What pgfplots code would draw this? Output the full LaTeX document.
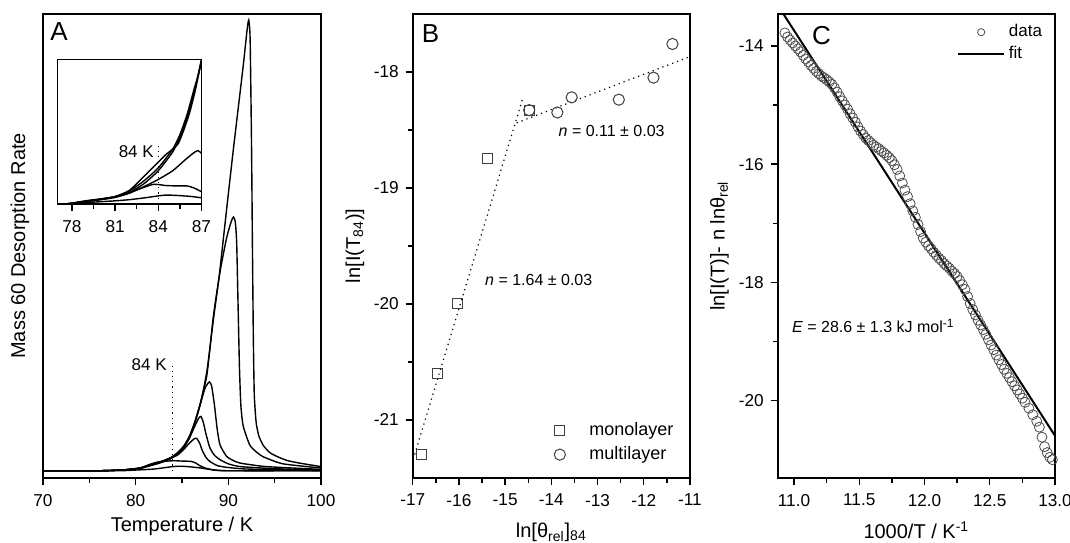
\documentclass[border=0pt]{standalone}
\usepackage{fontspec}
\setmainfont{Liberation Sans}
\usepackage{pgfplots}
\pgfplotsset{compat=1.18}
\pgfplotsset{
  myaxis/.style={
    scale only axis,
    axis line style={line width=0.8pt},
    every tick/.style={line width=0.7pt, black},
    tick align=outside,
    tick pos=left,
    major tick length=3.5pt, minor tick length=2.3pt,
    tick label style={font=\fontsize{8.6}{10}\selectfont},
    xticklabel style={yshift=-1pt},
    label style={font=\fontsize{10}{12}\selectfont},
    /pgf/number format/assume math mode=true,
  },
  tpd/.style={black, line width=0.7pt, smooth, tension=0.35},
  markleg/.style={legend image code/.code={\path[draw=none,fill=none] (0cm,-0.05cm) rectangle (0.75cm,0.05cm);\draw[##1, only marks] plot coordinates {(0.3cm,0cm)};}},
  dataleg/.style={legend image code/.code={\path[draw=none,fill=none] (0cm,-0.05cm) rectangle (0.8cm,0.05cm);\draw[##1, only marks, mark size=1.8pt] plot coordinates {(0.4cm,0cm)};}},
  fitleg/.style={legend image code/.code={\draw[##1] (0cm,0cm) -- (0.8cm,0cm);}},
}
\begin{document}
\begin{tikzpicture}
\useasboundingbox (0,0) rectangle (535pt,271pt);
% ---------------- Panel A ----------------
\begin{axis}[myaxis,
  at={(21.5pt,32pt)}, anchor=south west,
  width=139pt, height=232.1pt,
  xmin=70, xmax=100, ymin=-21, ymax=1322,
  xtick={70,80,90,100}, minor x tick num=1,
  ytick=\empty,
  xlabel={Temperature / K},
  ylabel={Mass 60 Desorption Rate},
  xlabel style={at={(axis description cs:0.5,-0.105)}, anchor=center},
  ylabel style={at={(axis description cs:-0.083,0.5)}, anchor=center},
  clip=true,
]
\addplot[tpd] coordinates {(70,0) (76,0) (77.5,1) (79,3) (80.5,7) (81.5,14) (82.3,20) (83.0,26) (83.8,35) (84.5,48) (85.2,68) (85.8,95) (86.4,140) (87.0,195) (87.7,290) (88.4,440) (89.0,560) (89.5,680) (90.5,920) (91.6,1170) (92.0,1270) (92.2,1304) (92.35,1250) (92.5,950) (92.6,650) (92.7,380) (92.8,220) (93.0,140) (93.3,100) (93.8,72) (94.5,52) (95.2,42) (96.3,30) (97.7,22) (100,12)};
\addplot[tpd] coordinates {(70,0) (76,0) (77.5,1) (79,3) (80.5,7) (81.5,15) (82.3,21) (83.0,27) (83.8,36) (84.5,50) (85.2,70) (85.8,97) (86.4,142) (87.0,198) (87.7,280) (88.4,450) (89.1,575) (89.8,672) (90.3,720) (90.55,734) (90.75,720) (90.9,660) (91.05,480) (91.2,300) (91.35,190) (91.6,130) (92.3,75) (93.0,55) (93.8,40) (95.9,20) (100,8)};
\addplot[tpd] coordinates {(70,0) (76,0) (77.5,1) (79,3) (80.5,8) (81.5,16) (82.3,22) (83.0,28) (83.8,38) (84.5,52) (85.2,72) (85.8,100) (86.4,142) (87.0,195) (87.5,240) (87.95,257) (88.2,245) (88.5,190) (88.8,120) (89.1,75) (89.8,42) (90.5,30) (91.3,22) (94.1,12) (100,4)};
\addplot[tpd] coordinates {(70,0) (76,0) (77.5,1) (79,3) (80.5,8) (81.5,17) (82.3,23) (83.0,29) (83.8,38) (84.5,50) (85.2,68) (85.8,95) (86.4,130) (86.8,152) (87.05,157) (87.3,140) (87.6,105) (88.0,67) (88.5,45) (89.1,32) (90,20) (91.3,12) (95,6) (100,2)};
\addplot[tpd] coordinates {(70,0) (76,0) (77.5,1) (79,3) (80.5,8) (81.5,17) (82.3,23) (83.0,29) (83.8,37) (84.5,45) (85.2,62) (85.8,80) (86.3,92) (86.58,94) (86.9,80) (87.2,58) (87.6,38) (88.0,27) (88.8,15) (89.8,10) (92,5) (100,0)};
\addplot[tpd] coordinates {(70,0) (76,0) (77.5,1) (79,3) (80.5,8) (81.5,18) (82.2,24) (83.0,27) (84.1,29) (85,28) (86.0,27) (86.5,22) (86.9,15) (87.5,8) (88.4,2) (90,0) (100,0)};
\addplot[tpd] coordinates {(70,0) (78,0) (80,2) (82,5) (84,12) (85,13) (86,11) (87,8) (88,4) (90,0) (100,0)};
\addplot[black, dotted, line width=0.6pt] coordinates {(84,0) (84,312)};
\node[anchor=east, font=\fontsize{8.5}{10}\selectfont, inner sep=1pt] at (axis cs:83.6,307) {84 K};
\node[anchor=north west, font=\fontsize{13}{14}\selectfont, inner sep=0pt] at (axis description cs:0.025,0.981) {A};
\end{axis}
% ---------------- Inset ----------------
\begin{axis}[myaxis,
  at={(28.75pt,169pt)}, anchor=south west,
  width=72pt, height=72.25pt,
  xmin=77, xmax=87, ymin=0, ymax=100,
  xtick={78,81,84,87}, minor x tick num=1,
  ytick=\empty,
  axis background/.style={fill=white},
  clip=true,
]
\addplot[tpd] coordinates {(77.5,0) (78,0.5) (79,2) (80,3.2) (81,5) (82,8) (83,14) (84,23) (85,36) (85.5,46) (86,60) (86.5,78) (87,100)};
\addplot[tpd] coordinates {(77.5,0) (78,0.6) (79,2.3) (80,3.5) (81,5.2) (82,9) (83,16) (84,25) (85,38) (85.5,48) (86,62) (86.5,80) (86.8,90) (87,99)};
\addplot[tpd] coordinates {(77.5,0) (78,0.5) (79,2) (80,3.5) (81,5) (82,9.5) (83,19) (84,29) (84.5,34) (85,38) (85.4,42) (85.8,52) (86.2,64) (86.6,80) (87,100)};
\addplot[tpd] coordinates {(77.5,0) (78,0.4) (79,1.8) (80,3) (81,4.5) (82,7.5) (83,12) (84,17) (85,23) (85.8,30) (86.4,35) (86.75,37) (87,35)};
\addplot[tpd] coordinates {(77.5,0) (78,0.4) (79,1.8) (80,3.2) (81,5) (82,8) (83,11.5) (83.6,13.5) (84,13.5) (84.5,12.8) (85.3,12.5) (86,12.5) (86.5,11) (87,8.5)};
\addplot[tpd] coordinates {(77.5,0) (78,0.3) (79,1) (80,1.6) (81,2.2) (82,3) (83,4.2) (84,5.6) (84.6,6.2) (85.5,5.8) (86.3,5.2) (87,4.3)};
\addplot[black, dotted, line width=0.6pt] coordinates {(84,0) (84,43)};
\node[anchor=east, font=\fontsize{8.5}{10}\selectfont, inner sep=1pt] at (axis cs:83.85,36) {84 K};
\end{axis}
% ---------------- Panel B ----------------
\begin{axis}[myaxis,
  at={(206.35pt,32pt)}, anchor=south west,
  width=138.65pt, height=232.1pt,
  xmin=-17, xmax=-11, ymin=-21.5, ymax=-17.5,
  xtick={-17,-16,...,-11}, minor x tick num=1,
  ytick={-21,-20,-19,-18}, minor y tick num=1,
  xlabel={ln[θ\textsubscript{rel}]\textsubscript{84}},
  ylabel={ln[I(T\textsubscript{84})]},
  xlabel style={at={(axis description cs:0.5,-0.118)}, anchor=center},
  ylabel style={at={(axis description cs:-0.208,0.5)}, anchor=center},
  legend style={draw=none, fill=none, at={(axis description cs:0.446,0.015)}, anchor=south west,
    font=\fontsize{9}{11}\selectfont, row sep=0pt},
  legend cell align=left,
]
\addplot[only marks, mark=square, mark size=2.5pt, draw=black!75, line width=0.5pt, markleg]
  coordinates {(-16.81,-21.30) (-16.47,-20.60) (-16.02,-20.00) (-15.38,-18.75) (-14.48,-18.33)};
\addlegendentry{monolayer}
\addplot[only marks, mark=o, mark size=2.8pt, draw=black!75, line width=0.5pt, markleg]
  coordinates {(-14.48,-18.33) (-13.87,-18.35) (-13.56,-18.22) (-12.54,-18.24) (-11.79,-18.05) (-11.38,-17.76)};
\addlegendentry{multilayer}
\addplot[black, dotted, line width=0.6pt, forget plot] coordinates {(-16.99,-21.34) (-14.62,-18.23)};
\addplot[black, dotted, line width=0.6pt, forget plot] coordinates {(-14.75,-18.44) (-11.04,-17.875)};
\node[anchor=west, font=\fontsize{8}{10}\selectfont, inner sep=0pt] at (axis cs:-13.85,-18.51) {\textit{n} = 0.11 ± 0.03};
\node[anchor=west, font=\fontsize{8}{10}\selectfont, inner sep=0pt] at (axis cs:-15.44,-19.79) {\textit{n} = 1.64 ± 0.03};
\node[anchor=north west, font=\fontsize{13}{14}\selectfont, inner sep=0pt] at (axis description cs:0.032,0.978) {B};
\end{axis}
% ---------------- Panel C ----------------
\begin{axis}[myaxis,
  at={(388.85pt,32pt)}, anchor=south west,
  width=138.65pt, height=232.1pt,
  xmin=10.875, xmax=13.0, ymin=-21.31, ymax=-13.457,
  xtick={11,11.5,12,12.5,13}, minor x tick num=1,
  ytick={-20,-18,-16,-14}, minor y tick num=1,
  xticklabel style={/pgf/number format/.cd, fixed, fixed zerofill, precision=1},
  xlabel={1000/T / K\textsuperscript{-1}},
  ylabel={ln[I(T)]- n lnθ\textsubscript{rel}},
  xlabel style={at={(axis description cs:0.5,-0.112)}, anchor=center},
  ylabel style={at={(axis description cs:-0.21,0.5)}, anchor=center},
  legend style={draw=none, fill=none, at={(axis description cs:0.625,0.995)}, anchor=north west,
    font=\fontsize{8.5}{10}\selectfont, row sep=-1pt},
  legend cell align=left,
  clip=true,
]
\addplot[only marks, mark=o, mark size=2.5pt, draw=black!70, line width=0.4pt, dataleg]
  coordinates {
(10.93,-13.78) (10.95,-13.85) (10.97,-13.90) (10.99,-13.95) (11.01,-14.00) (11.03,-14.05)
(11.05,-14.10) (11.07,-14.16) (11.09,-14.22) (11.11,-14.27) (11.13,-14.33) (11.15,-14.38)
(11.17,-14.43) (11.19,-14.47) (11.21,-14.51) (11.23,-14.54) (11.25,-14.57) (11.27,-14.61)
(11.29,-14.65) (11.31,-14.71) (11.33,-14.78) (11.35,-14.86) (11.37,-14.93) (11.39,-15.00)
(11.41,-15.07) (11.43,-15.15) (11.45,-15.22) (11.47,-15.29) (11.49,-15.37) (11.51,-15.44)
(11.53,-15.50) (11.55,-15.56) (11.57,-15.60) (11.59,-15.64) (11.61,-15.68) (11.63,-15.71)
(11.65,-15.74) (11.67,-15.78) (11.69,-15.81) (11.71,-15.85) (11.73,-15.89) (11.75,-15.94)
(11.77,-16.01) (11.79,-16.09) (11.81,-16.20) (11.83,-16.32) (11.85,-16.44) (11.87,-16.55)
(11.89,-16.67) (11.91,-16.79) (11.93,-16.90) (11.95,-17.02) (11.97,-17.14) (11.99,-17.25)
(12.01,-17.32) (12.03,-17.38) (12.05,-17.43) (12.07,-17.49) (12.09,-17.54) (12.11,-17.59)
(12.13,-17.63) (12.15,-17.68) (12.17,-17.72) (12.19,-17.76) (12.21,-17.81) (12.23,-17.85)
(12.25,-17.90) (12.27,-17.97) (12.29,-18.04) (12.31,-18.12) (12.33,-18.24) (12.35,-18.36)
(12.37,-18.46) (12.39,-18.55) (12.41,-18.64) (12.43,-18.72) (12.45,-18.80) (12.47,-18.88)
(12.49,-18.97) (12.51,-19.06) (12.53,-19.14) (12.55,-19.23) (12.57,-19.31) (12.59,-19.39)
(12.61,-19.47) (12.63,-19.54) (12.65,-19.61) (12.67,-19.68) (12.69,-19.75) (12.71,-19.82)
(12.73,-19.89) (12.75,-19.96) (12.77,-20.03) (12.80,-20.13) (12.83,-20.24) (12.86,-20.35)
(12.88,-20.45) (12.90,-20.62) (12.92,-20.78) (12.94,-20.88) (12.96,-20.96) (12.98,-21.00)
};
\addlegendentry{data}
\addplot[black, line width=1pt, fitleg]
  coordinates {(10.918,-13.457) (13.0,-20.596)};
\addlegendentry{fit}
\node[anchor=west, font=\fontsize{8}{10}\selectfont, inner sep=0pt] at (axis cs:10.982,-18.74) {\textit{E} = 28.6 ± 1.3 kJ mol\textsuperscript{-1}};
\node[anchor=north west, font=\fontsize{13}{14}\selectfont, inner sep=0pt] at (axis description cs:0.123,0.974) {C};
\end{axis}
\end{tikzpicture}
\end{document}
